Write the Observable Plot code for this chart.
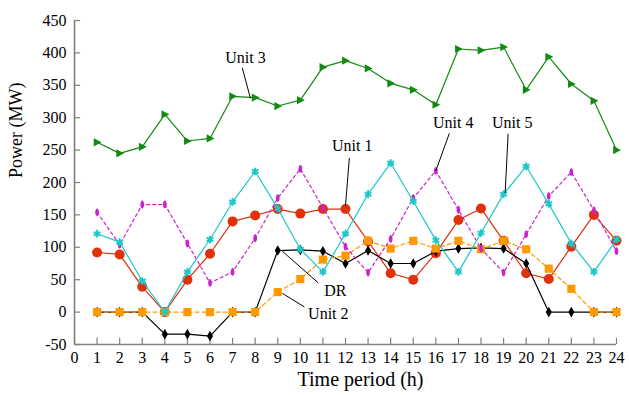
<!DOCTYPE html>
<html><head><meta charset="utf-8">
<script src="https://cdn.jsdelivr.net/npm/d3@7"></script>
<script src="https://cdn.jsdelivr.net/npm/@observablehq/plot@0.6"></script>
<style>
body{margin:0;background:#fff}
#chart svg{font-family:"Liberation Serif","Times New Roman",serif;background:#fff}
</style>
</head><body><div id="chart"></div>
<script>
const hours = [1,2,3,4,5,6,7,8,9,10,11,12,13,14,15,16,17,18,19,20,21,22,23,24];
const unit1 = [92,89,39,0,50,90,140,149,159,152,159,159,109,60,50,91,142,160,110,60,51,101,150,110];
const unit2 = [0,0,0,0,0,0,0,0,31,51,81,87,110,98,110,98,110,97,110,97,67,36,0,0];
const unit3 = [262,245,255,305,264,268,333,331,318,327,378,388,376,353,343,320,406,404,409,343,394,352,326,250];
const unit4 = [154,104,166,166,106,45,62,114,176,221,161,101,61,113,176,218,158,98,61,120,179,216,157,94];
const unit5 = [121,108,48,0,62,112,170,217,160,97,62,121,182,230,171,111,62,122,182,225,167,106,62,112];
const dr    = [0,0,0,-34,-34,-37,0,0,95,96,94,75,95,75,75,94,98,99,98,75,0,0,0,0];
const xTicks = [0,1,2,3,4,5,6,7,8,9,10,11,12,13,14,15,16,17,18,19,20,21,22,23,24];
const yTicks = [-50,0,50,100,150,200,250,300,350,400,450];
const xTitle = "Time period (h)";
const yTitle = "Power (MW)";

// annotation labels and leader lines (in data units)
const labelNames = ["Unit 3","Unit 1","Unit 4","Unit 5","DR","Unit 2"];
const labelX = [7.57,12.3,16.77,19.38,11.55,11.24];
const labelY = [393,256,292,292,32,-2];
const leadX1 = [7.43,12.17,16.6,19.2,9.2,9.2];
const leadY1 = [377,238,276,275,94,29];
const leadX2 = [7.79,12.0,16.0,19.07,10.8,10.18];
const leadY2 = [330,164,218,184,45,8];

const labels = labelNames.map((name,i)=>({name, x:labelX[i], y:labelY[i], x1:leadX1[i], y1:leadY1[i], x2:leadX2[i], y2:leadY2[i]}));

const toRows = (vals) => hours.map((h,i)=>({hour:h, value:vals[i]}));

const triRight = {draw(ctx,size){const s=Math.sqrt(size);ctx.moveTo(s*0.6,0);ctx.lineTo(-s*0.45,-s*0.55);ctx.lineTo(-s*0.45,s*0.55);ctx.closePath();}};
const ellipse = {draw(ctx,size){const r=Math.sqrt(size/Math.PI);const rx=r*0.55,ry=r*1.15,k=0.5523;
  ctx.moveTo(rx,0);ctx.bezierCurveTo(rx,ry*k,rx*k,ry,0,ry);ctx.bezierCurveTo(-rx*k,ry,-rx,ry*k,-rx,0);
  ctx.bezierCurveTo(-rx,-ry*k,-rx*k,-ry,0,-ry);ctx.bezierCurveTo(rx*k,-ry,rx,-ry*k,rx,0);ctx.closePath();}};

const C = {u1:"#e0300c", u2:"#ff9900", u3:"#128a12", u4:"#cc22cc", u5:"#1cc8c8", dr:"#000000"};
const axisColor = "#808080";

function series(vals, color, symbol, r, dash, extra={}) {
  const rows = toRows(vals);
  return [
    Plot.line(rows, {x:"hour", y:"value", stroke:color, strokeWidth:1.2, strokeDasharray:dash}),
    Plot.dot(rows, {x:"hour", y:"value", symbol, r, fill: extra.stroke ? "none" : color, stroke: extra.stroke ? color : "none", strokeWidth: extra.strokeWidth || 1})
  ];
}

const chart = Plot.plot({
  width: 629,
  height: 395,
  marginLeft: 74,
  marginRight: 13,
  marginTop: 20,
  marginBottom: 51,
  style: {fontFamily:'"Liberation Serif","Times New Roman",serif', background:"#fff", color:"#000"},
  x: {domain:[0,24]},
  y: {domain:[-50,450]},
  marks: [
    Plot.axisX({ticks:xTicks, tickSize:0, tickPadding:7, fontSize:16, label:null, tickFormat:d=>String(d)}),
    Plot.axisY({ticks:yTicks, tickSize:0, tickPadding:8, fontSize:16, label:null, tickFormat:d=>String(d)}),
    Plot.text([xTitle], {frameAnchor:"bottom", dx:15, dy:41, fontSize:20, fill:"#000", text:d=>d}),
    Plot.text([yTitle], {frameAnchor:"left", dx:-58, dy:-4.5, rotate:-90, fontSize:18, fill:"#000", text:d=>d}),
    Plot.ruleY(yTicks, {x1:0, x2:0.27, stroke:axisColor, strokeWidth:1.2}),
    Plot.ruleX(xTicks, {y1:-50, y2:-40.5, stroke:axisColor, strokeWidth:1.2}),
    Plot.ruleX([0], {stroke:axisColor, strokeWidth:1.6}),
    Plot.ruleY([-50], {stroke:axisColor, strokeWidth:1.6}),
    ...series(unit1, C.u1, "circle", 5, null),
    ...series(dr, C.dr, "diamond", 3.2, null),
    ...series(unit2, C.u2, "square", 4.6, "4,3"),
    ...series(unit4, C.u4, ellipse, 3.4, "3,3"),
    ...series(unit5, C.u5, "asterisk", 3.6, null, {stroke:true, strokeWidth:2}),
    ...series(unit3, C.u3, triRight, 4.2, null),
    Plot.link(labels, {x1:"x1", y1:"y1", x2:"x2", y2:"y2", stroke:"#000", strokeWidth:1}),
    Plot.text(labels, {x:"x", y:"y", text:"name", fontSize:16, fill:"#000"})
  ]
});
document.getElementById("chart").append(chart);
</script>
</body></html>
